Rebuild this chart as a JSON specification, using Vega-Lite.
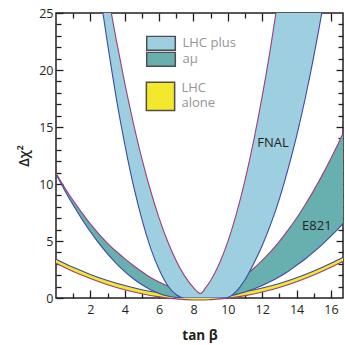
{
  "$schema": "https://vega.github.io/schema/vega-lite/v6.json",
  "width": 287,
  "height": 285,
  "autosize": {"type": "none"},
  "padding": {"left": 56, "top": 13, "right": 2, "bottom": 47},
  "config": {"view": {"stroke": "#231f20", "strokeWidth": 1.5}, "font": "Open Sans"},
  "datasets": {
    "lhc": [
      {"band": "LHC alone", "x": 0, "lo": 3.05, "hi": 3.41},
      {"band": "LHC alone", "x": 1, "lo": 2.33, "hi": 2.69},
      {"band": "LHC alone", "x": 2, "lo": 1.71, "hi": 2.07},
      {"band": "LHC alone", "x": 3, "lo": 1.17, "hi": 1.53},
      {"band": "LHC alone", "x": 4, "lo": 0.73, "hi": 1.09},
      {"band": "LHC alone", "x": 5, "lo": 0.37, "hi": 0.73},
      {"band": "LHC alone", "x": 6, "lo": 0.1, "hi": 0.46},
      {"band": "LHC alone", "x": 7, "lo": -0.08, "hi": 0.28},
      {"band": "LHC alone", "x": 8, "lo": -0.17, "hi": 0.19},
      {"band": "LHC alone", "x": 8.5, "lo": -0.18, "hi": 0.18},
      {"band": "LHC alone", "x": 9, "lo": -0.14, "hi": 0.22},
      {"band": "LHC alone", "x": 10, "lo": -0.01, "hi": 0.35},
      {"band": "LHC alone", "x": 11, "lo": 0.21, "hi": 0.57},
      {"band": "LHC alone", "x": 12, "lo": 0.52, "hi": 0.88},
      {"band": "LHC alone", "x": 13, "lo": 0.92, "hi": 1.28},
      {"band": "LHC alone", "x": 14, "lo": 1.42, "hi": 1.78},
      {"band": "LHC alone", "x": 15, "lo": 2.01, "hi": 2.37},
      {"band": "LHC alone", "x": 16, "lo": 2.69, "hi": 3.05},
      {"band": "LHC alone", "x": 16.7, "lo": 3.22, "hi": 3.58}
    ],
    "e821": [
      {"band": "E821", "x": 0, "lo": 10.87, "hi": 10.95},
      {"band": "E821", "x": 0.5, "lo": 9.46, "hi": 9.7},
      {"band": "E821", "x": 1, "lo": 8.15, "hi": 8.55},
      {"band": "E821", "x": 1.5, "lo": 6.93, "hi": 7.5},
      {"band": "E821", "x": 2, "lo": 5.81, "hi": 6.5},
      {"band": "E821", "x": 2.5, "lo": 4.79, "hi": 5.6},
      {"band": "E821", "x": 3, "lo": 3.87, "hi": 4.8},
      {"band": "E821", "x": 3.5, "lo": 3.04, "hi": 4.1},
      {"band": "E821", "x": 4, "lo": 2.32, "hi": 3.45},
      {"band": "E821", "x": 4.5, "lo": 1.69, "hi": 2.85},
      {"band": "E821", "x": 5, "lo": 1.16, "hi": 2.3},
      {"band": "E821", "x": 5.5, "lo": 0.73, "hi": 1.8},
      {"band": "E821", "x": 6, "lo": 0.4, "hi": 1.4},
      {"band": "E821", "x": 6.5, "lo": 0.17, "hi": 1.05},
      {"band": "E821", "x": 7, "lo": 0.04, "hi": 0.78},
      {"band": "E821", "x": 7.5, "lo": 0, "hi": 0.58},
      {"band": "E821", "x": 8, "lo": 0, "hi": 0.45},
      {"band": "E821", "x": 8.5, "lo": 0, "hi": 0.4},
      {"band": "E821", "x": 9, "lo": 0.01, "hi": 0.45},
      {"band": "E821", "x": 9.5, "lo": 0.06, "hi": 0.63},
      {"band": "E821", "x": 10, "lo": 0.16, "hi": 0.99},
      {"band": "E821", "x": 10.5, "lo": 0.32, "hi": 1.44},
      {"band": "E821", "x": 11, "lo": 0.53, "hi": 1.98},
      {"band": "E821", "x": 11.5, "lo": 0.78, "hi": 2.59},
      {"band": "E821", "x": 12, "lo": 1.09, "hi": 3.3},
      {"band": "E821", "x": 12.5, "lo": 1.46, "hi": 4.08},
      {"band": "E821", "x": 13, "lo": 1.87, "hi": 4.97},
      {"band": "E821", "x": 13.5, "lo": 2.33, "hi": 5.95},
      {"band": "E821", "x": 14, "lo": 2.87, "hi": 7.02},
      {"band": "E821", "x": 14.5, "lo": 3.42, "hi": 8.18},
      {"band": "E821", "x": 15, "lo": 4.04, "hi": 9.44},
      {"band": "E821", "x": 15.5, "lo": 4.71, "hi": 10.8},
      {"band": "E821", "x": 16, "lo": 5.43, "hi": 12.25},
      {"band": "E821", "x": 16.5, "lo": 6.2, "hi": 13.8},
      {"band": "E821", "x": 16.7, "lo": 6.55, "hi": 14.45}
    ],
    "fnal": [
      {"band": "FNAL", "x": 2.5, "lo": 27.5, "hi": 31.5},
      {"band": "FNAL", "x": 2.75, "lo": 24.8, "hi": 29.1},
      {"band": "FNAL", "x": 3.0, "lo": 22.3, "hi": 26.9},
      {"band": "FNAL", "x": 3.25, "lo": 19.9, "hi": 24.75},
      {"band": "FNAL", "x": 3.5, "lo": 17.6, "hi": 22.7},
      {"band": "FNAL", "x": 4.0, "lo": 13.5, "hi": 18.84},
      {"band": "FNAL", "x": 4.5, "lo": 9.9, "hi": 15.35},
      {"band": "FNAL", "x": 5.0, "lo": 6.9, "hi": 12.21},
      {"band": "FNAL", "x": 5.5, "lo": 4.4, "hi": 9.43},
      {"band": "FNAL", "x": 6.0, "lo": 2.5, "hi": 7.01},
      {"band": "FNAL", "x": 6.5, "lo": 1.1, "hi": 4.95},
      {"band": "FNAL", "x": 7.0, "lo": 0.28, "hi": 3.25},
      {"band": "FNAL", "x": 7.5, "lo": 0, "hi": 1.9},
      {"band": "FNAL", "x": 8.0, "lo": 0, "hi": 0.91},
      {"band": "FNAL", "x": 8.4, "lo": 0, "hi": 0.4},
      {"band": "FNAL", "x": 8.7, "lo": 0, "hi": 0.88},
      {"band": "FNAL", "x": 9.0, "lo": 0, "hi": 1.53},
      {"band": "FNAL", "x": 9.5, "lo": 0, "hi": 3.0},
      {"band": "FNAL", "x": 9.9, "lo": 0.01, "hi": 4.53},
      {"band": "FNAL", "x": 10.5, "lo": 0.6, "hi": 7.41},
      {"band": "FNAL", "x": 11.0, "lo": 1.6, "hi": 10.35},
      {"band": "FNAL", "x": 11.5, "lo": 3.0, "hi": 13.78},
      {"band": "FNAL", "x": 12.0, "lo": 4.6, "hi": 17.7},
      {"band": "FNAL", "x": 12.5, "lo": 6.5, "hi": 22.1},
      {"band": "FNAL", "x": 13.0, "lo": 8.7, "hi": 27.0},
      {"band": "FNAL", "x": 13.5, "lo": 11.3, "hi": 32.4},
      {"band": "FNAL", "x": 14.0, "lo": 14.2, "hi": 38.3},
      {"band": "FNAL", "x": 14.5, "lo": 17.5, "hi": 44.6},
      {"band": "FNAL", "x": 15.0, "lo": 21.2, "hi": 51.5},
      {"band": "FNAL", "x": 15.5, "lo": 25.3, "hi": 58.9},
      {"band": "FNAL", "x": 15.8, "lo": 28.0, "hi": 63.5}
    ],
    "labels": [
      {"label": "FNAL", "x": 12.63, "y": 13.6},
      {"label": "E821", "x": 15.18, "y": 6.3}
    ]
  },
  "resolve": {
    "axis": {"x": "independent", "y": "independent"},
    "scale": {"fill": "independent"},
    "legend": {"fill": "independent"}
  },
  "layer": [
    {
      "data": {"name": "lhc"},
      "mark": {"type": "area", "interpolate": "monotone"},
      "encoding": {
        "x": {
          "field": "x", "type": "quantitative",
          "scale": {"domain": [0, 16.7], "nice": false, "zero": false},
          "axis": {
            "orient": "bottom",
            "values": [1, 2, 3, 4, 5, 6, 7, 8, 9, 10, 11, 12, 13, 14, 15, 16],
            "labelExpr": "datum.value % 2 == 0 ? datum.label : ''",
            "tickSize": {"condition": {"test": "datum.value % 2 == 0", "value": -8}, "value": -5},
            "tickColor": "#231f20", "tickWidth": 1.3,
            "domain": false, "grid": false,
            "labelFont": "Open Sans", "labelFontSize": 12.5, "labelColor": "#231f20",
            "labelPadding": 13,
            "title": "tan β", "titleFont": "Open Sans", "titleFontSize": 13.5,
            "titleFontWeight": "bold", "titleColor": "#231f20", "titlePadding": 13
          }
        },
        "y": {
          "field": "lo", "type": "quantitative",
          "scale": {"domain": [0, 25], "nice": false, "zero": false},
          "axis": {
            "orient": "left",
            "values": [0, 1, 2, 3, 4, 5, 6, 7, 8, 9, 10, 11, 12, 13, 14, 15, 16, 17, 18, 19, 20, 21, 22, 23, 24, 25],
            "labelExpr": "datum.value % 5 == 0 ? datum.label : ''",
            "tickSize": {"condition": {"test": "datum.value % 5 == 0", "value": -7}, "value": -5},
            "tickColor": "#231f20", "tickWidth": 1.3,
            "domain": false, "grid": false,
            "labelFont": "Open Sans", "labelFontSize": 12.5, "labelColor": "#231f20",
            "labelPadding": 10,
            "title": "Δχ²", "titleFont": "Open Sans", "titleFontSize": 14,
            "titleFontWeight": 600, "titleColor": "#231f20", "titlePadding": 7
          }
        },
        "y2": {"field": "hi"},
        "fill": {
          "field": "band", "type": "nominal",
          "scale": {"domain": ["LHC alone"], "range": ["#f3e82c"]},
          "legend": {
            "orient": "none", "legendX": 89.5, "legendY": 68.4, "title": null,
            "padding": 0, "symbolType": "square", "symbolSize": 800,
            "symbolStrokeColor": "#4d4d4f", "symbolStrokeWidth": 1.5,
            "labelExpr": "['LHC', 'alone']", "labelBaseline": "line-bottom",
            "labelFont": "Open Sans", "labelFontSize": 13, "labelColor": "#939598",
            "labelOffset": 6
          }
        }
      }
    },
    {
      "data": {"name": "lhc"},
      "mark": {"type": "line", "interpolate": "monotone", "color": "#3b4aa5", "strokeWidth": 1.1},
      "encoding": {
        "x": {"field": "x", "type": "quantitative", "axis": null},
        "y": {"field": "hi", "type": "quantitative", "axis": null}
      }
    },
    {
      "data": {"name": "lhc"},
      "mark": {"type": "line", "interpolate": "monotone", "color": "#9b3f78", "strokeWidth": 1.1},
      "encoding": {
        "x": {"field": "x", "type": "quantitative", "axis": null},
        "y": {"field": "lo", "type": "quantitative", "axis": null}
      }
    },
    {
      "layer": [
        {
          "data": {"name": "e821"},
          "mark": {"type": "area", "interpolate": "monotone", "clip": true},
          "encoding": {
            "x": {"field": "x", "type": "quantitative", "axis": null},
            "y": {"field": "lo", "type": "quantitative", "axis": null},
            "y2": {"field": "hi"},
            "fill": {
              "field": "band", "type": "nominal",
              "scale": {"domain": ["FNAL", "E821"], "range": ["#9dcfe0", "#68afaf"]},
              "legend": {
                "orient": "none", "legendX": 89.5, "legendY": 22.6, "title": null,
                "padding": 0, "rowPadding": -1.5, "clipHeight": 15.5,
                "symbolType": "M-1,-0.49H1V0.49H-1Z", "symbolSize": 818,
                "symbolStrokeColor": "#4d4d4f", "symbolStrokeWidth": 1.5,
                "labelExpr": "datum.value == 'FNAL' ? 'LHC plus' : 'aμ'",
                "labelFont": "Open Sans", "labelFontSize": 13, "labelColor": "#939598",
                "labelOffset": 6
              }
            }
          }
        },
        {
          "data": {"name": "e821"},
          "mark": {"type": "line", "interpolate": "monotone", "clip": true, "color": "#3b4aa5", "strokeWidth": 1.1},
          "encoding": {
            "x": {"field": "x", "type": "quantitative", "axis": null},
            "y": {"field": "lo", "type": "quantitative", "axis": null}
          }
        },
        {
          "data": {"name": "e821"},
          "mark": {"type": "line", "interpolate": "monotone", "clip": true, "color": "#9b3f78", "strokeWidth": 1.1},
          "encoding": {
            "x": {"field": "x", "type": "quantitative", "axis": null},
            "y": {"field": "hi", "type": "quantitative", "axis": null}
          }
        },
        {
          "data": {"name": "fnal"},
          "mark": {"type": "area", "interpolate": "monotone", "clip": true},
          "encoding": {
            "x": {"field": "x", "type": "quantitative", "axis": null},
            "y": {"field": "lo", "type": "quantitative", "axis": null},
            "y2": {"field": "hi"},
            "fill": {"field": "band", "type": "nominal"}
          }
        },
        {
          "data": {"name": "fnal"},
          "mark": {"type": "line", "interpolate": "monotone", "clip": true, "color": "#3b4aa5", "strokeWidth": 1.1},
          "encoding": {
            "x": {"field": "x", "type": "quantitative", "axis": null},
            "y": {"field": "lo", "type": "quantitative", "axis": null}
          }
        },
        {
          "data": {"name": "fnal"},
          "mark": {"type": "line", "interpolate": "monotone", "clip": true, "color": "#9b3f78", "strokeWidth": 1.1},
          "encoding": {
            "x": {"field": "x", "type": "quantitative", "axis": null},
            "y": {"field": "hi", "type": "quantitative", "axis": null}
          }
        }
      ]
    },
    {
      "data": {"name": "labels"},
      "mark": {"type": "text", "font": "Open Sans", "fontSize": 13, "color": "#231f20"},
      "encoding": {
        "x": {
          "field": "x", "type": "quantitative",
          "axis": {
            "orient": "top",
            "values": [1, 2, 3, 4, 5, 6, 7, 8, 9, 10, 11, 12, 13, 14, 15, 16],
            "labels": false, "title": null, "domain": false, "grid": false,
            "tickSize": {"condition": {"test": "datum.value % 2 == 0", "value": -8}, "value": -5},
            "tickColor": "#231f20", "tickWidth": 1.3
          }
        },
        "y": {
          "field": "y", "type": "quantitative",
          "axis": {
            "orient": "right",
            "values": [1, 2, 3, 4, 5, 6, 7, 8, 9, 10, 11, 12, 13, 14, 15, 16, 17, 18, 19, 20, 21, 22, 23, 24],
            "labels": false, "title": null, "domain": false, "grid": false,
            "tickSize": {"condition": {"test": "datum.value % 5 == 0", "value": -7}, "value": -5},
            "tickColor": "#231f20", "tickWidth": 1.3
          }
        },
        "text": {"field": "label"}
      }
    }
  ]
}
